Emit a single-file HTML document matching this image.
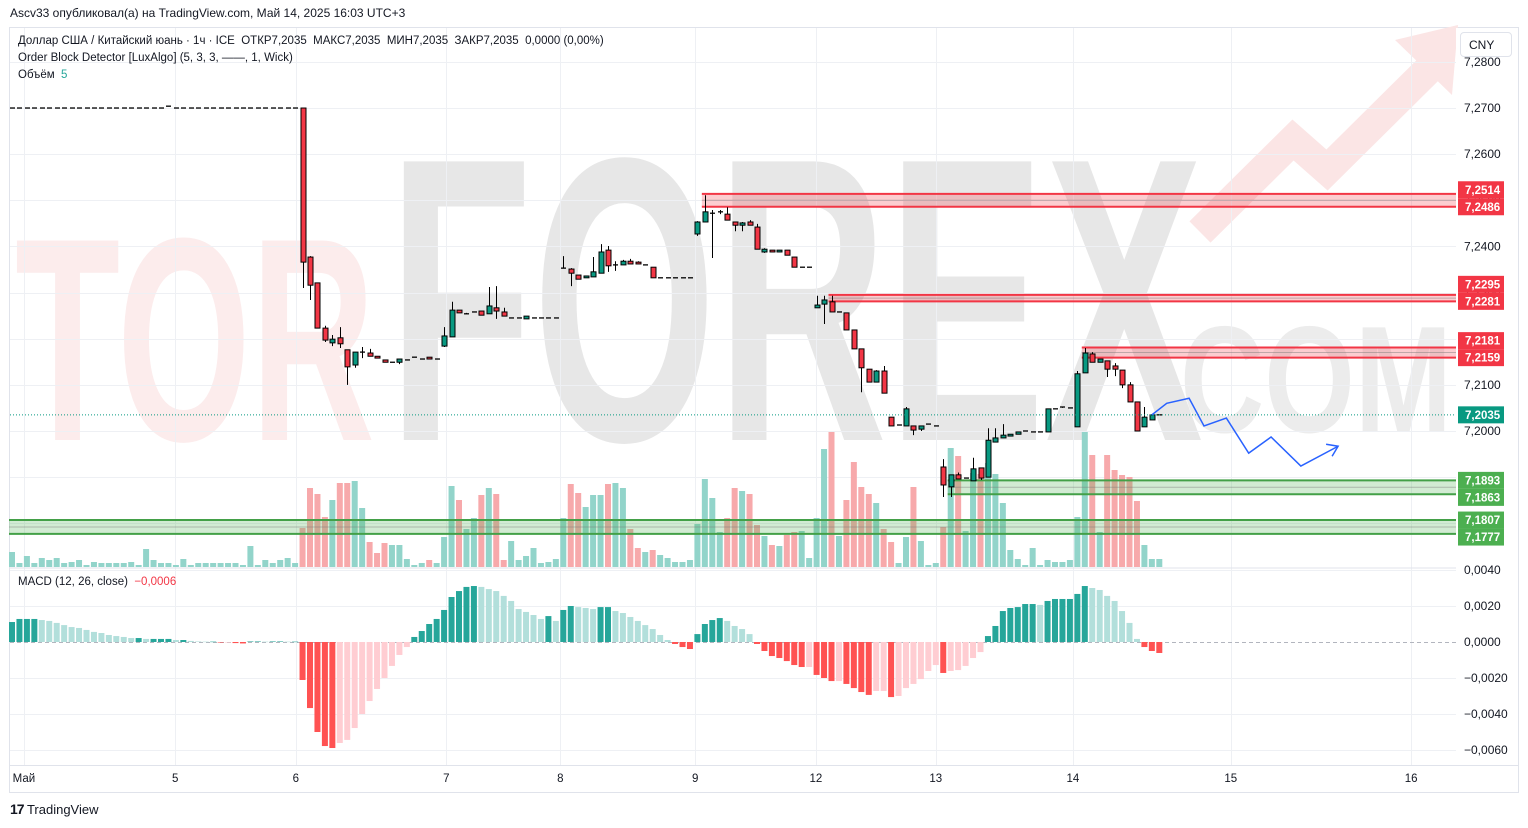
<!DOCTYPE html>
<html><head><meta charset="utf-8">
<style>
html,body{margin:0;padding:0;background:#fff;width:1528px;height:828px;overflow:hidden;font-family:"Liberation Sans","DejaVu Sans",sans-serif;}
#hdr{position:absolute;left:10px;top:6px;font-size:12px;color:#131722;}
.leg{position:absolute;left:18px;font-size:11.5px;color:#131722;white-space:nowrap;}
#cny{position:absolute;left:1460px;top:32px;width:52px;height:25px;border:1px solid #e0e3eb;border-radius:4px;background:#fff;font-size:12px;color:#131722;box-sizing:border-box;padding:5px 0 0 8px;}
#tv{position:absolute;left:10px;top:801px;font-size:13px;color:#131722;}
svg{position:absolute;left:0;top:0;}
</style></head><body>
<svg id="chart" width="1528" height="828"></svg>
<div id="hdr">Ascv33 опубликовал(а) на TradingView.com, Май 14, 2025 16:03 UTC+3</div>
<div class="leg" style="top:35px">Доллар США / Китайский юань · 1ч · ICE&nbsp; ОТКР7,2035&nbsp; МАКС7,2035&nbsp; МИН7,2035&nbsp; ЗАКР7,2035&nbsp; 0,0000 (0,00%)</div>
<div class="leg" style="top:52px">Order Block Detector [LuxAlgo] (5, 3, 3, ——, 1, Wick)</div>
<div class="leg" style="top:69px">Объём&nbsp; <span style="color:#26a69a">5</span></div>
<div class="leg" style="top:576px">MACD (12, 26, close)&nbsp; <span style="color:#f23645">−0,0006</span></div>
<div id="cny">CNY</div>
<div id="tv"><b style="font-size:14px;letter-spacing:-1px">17</b> TradingView</div>
<script>
const opens=[7.27,7.27,7.27,7.27,7.27,7.27,7.27,7.27,7.27,7.27,7.27,7.27,7.27,7.27,7.27,7.27,7.27,7.27,7.27,7.27,7.27,7.2704,7.27,7.27,7.27,7.27,7.27,7.27,7.27,7.27,7.27,7.27,7.27,7.27,7.27,7.27,7.27,7.27,7.27,
7.2700,7.2377,7.2321,7.2223,7.2191,7.2202,7.2176,7.2143,7.2171,7.2169,7.2162,7.2154,7.2149,7.2149,7.2154,7.2160,7.2156,7.2160,7.2156,7.2184,7.2204,7.2262,7.2254,7.2258,7.2260,7.2254,7.2267,7.2258,7.2245,7.2245,7.2243,7.2245,7.2245,7.2245,7.2245,7.2353,7.2351,7.2338,7.2332,7.2334,7.2342,7.2392,7.2360,7.2360,7.2368,7.2366,7.2360,7.2355,7.2332,7.2332,7.2332,7.2332,7.2332,7.2427,7.2453,7.2472,7.2475,7.2470,7.2453,7.2446,7.2453,7.2442,7.2388,7.2392,7.2388,7.2392,7.2377,7.2355,7.2355,7.2267,7.2275,7.2280,7.2258,7.2256,7.2219,7.2178,7.2134,7.2106,7.2130,7.2030,7.2013,7.2011,7.2011,7.2004,7.2015,7.2011,7.1922,7.1879,7.1905,7.1898,7.1892,7.1920,7.1900,7.1976,7.1985,7.1989,7.1993,7.2000,7.1998,7.1998,7.1998,7.2048,7.2050,7.2050,7.2009,7.2126,7.2167,7.2149,7.2152,7.2141,7.2132,7.2100,7.2063,7.2009,7.2024,7.2035];
const highs=[7.27,7.27,7.27,7.27,7.27,7.27,7.27,7.27,7.27,7.27,7.27,7.27,7.27,7.27,7.27,7.27,7.27,7.27,7.27,7.27,7.27,7.2704,7.27,7.27,7.27,7.27,7.27,7.27,7.27,7.27,7.27,7.27,7.27,7.27,7.27,7.27,7.27,7.27,7.27,
7.2700,7.2379,7.2321,7.2228,7.2208,7.2225,7.2176,7.2171,7.2182,7.2178,7.2162,7.2154,7.2149,7.2156,7.2154,7.2160,7.2156,7.2160,7.2156,7.2225,7.2280,7.2262,7.2256,7.2258,7.2260,7.2312,7.2314,7.2267,7.2245,7.2245,7.2249,7.2245,7.2245,7.2245,7.2245,7.2379,7.2353,7.2338,7.2336,7.2377,7.2405,7.2401,7.2368,7.2371,7.2373,7.2368,7.2360,7.2355,7.2332,7.2332,7.2332,7.2332,7.2332,7.2455,7.2511,7.2479,7.2479,7.2485,7.2453,7.2453,7.2457,7.2449,7.2396,7.2392,7.2392,7.2392,7.2377,7.2355,7.2355,7.2293,7.2293,7.2293,7.2258,7.2256,7.2219,7.2178,7.2134,7.2132,7.2141,7.2030,7.2013,7.2052,7.2011,7.2011,7.2015,7.2011,7.1939,7.1905,7.1910,7.1898,7.1942,7.1920,7.2006,7.2006,7.2015,7.1993,7.1998,7.2000,7.1998,7.1998,7.2048,7.2048,7.2052,7.2050,7.2130,7.2180,7.2171,7.2156,7.2152,7.2147,7.2132,7.2106,7.2063,7.2052,7.2035,7.2035];
const lows=[7.27,7.27,7.27,7.27,7.27,7.27,7.27,7.27,7.27,7.27,7.27,7.27,7.27,7.27,7.27,7.27,7.27,7.27,7.27,7.27,7.27,7.2704,7.27,7.27,7.27,7.27,7.27,7.27,7.27,7.27,7.27,7.27,7.27,7.27,7.27,7.27,7.27,7.27,7.27,
7.2310,7.2284,7.2223,7.2193,7.2184,7.2180,7.2100,7.2137,7.2158,7.2162,7.2158,7.2149,7.2149,7.2145,7.2154,7.2160,7.2156,7.2156,7.2156,7.2182,7.2204,7.2256,7.2254,7.2258,7.2251,7.2254,7.2243,7.2249,7.2245,7.2245,7.2243,7.2245,7.2245,7.2245,7.2245,7.2353,7.2314,7.2329,7.2332,7.2334,7.2342,7.2345,7.2347,7.2360,7.2362,7.2362,7.2360,7.2332,7.2332,7.2332,7.2332,7.2332,7.2332,7.2423,7.2453,7.2375,7.2470,7.2457,7.2433,7.2433,7.2446,7.2394,7.2386,7.2388,7.2388,7.2381,7.2355,7.2355,7.2355,7.2267,7.2232,7.2258,7.2258,7.2219,7.2178,7.2084,7.2106,7.2106,7.2082,7.2011,7.2013,7.2011,7.1991,7.2000,7.2015,7.2011,7.1857,7.1857,7.1896,7.1898,7.1892,7.1894,7.1900,7.1976,7.1985,7.1989,7.1993,7.2000,7.1998,7.1998,7.1998,7.2048,7.2050,7.2050,7.2009,7.2126,7.2149,7.2149,7.2117,7.2119,7.2093,7.2063,7.2000,7.2009,7.2024,7.2035];
const closes=[7.27,7.27,7.27,7.27,7.27,7.27,7.27,7.27,7.27,7.27,7.27,7.27,7.27,7.27,7.27,7.27,7.27,7.27,7.27,7.27,7.27,7.2704,7.27,7.27,7.27,7.27,7.27,7.27,7.27,7.27,7.27,7.27,7.27,7.27,7.27,7.27,7.27,7.27,7.27,
7.2366,7.2316,7.2223,7.2197,7.2199,7.2189,7.2139,7.2171,7.2171,7.2162,7.2158,7.2149,7.2149,7.2156,7.2154,7.2160,7.2156,7.2156,7.2156,7.2206,7.2262,7.2256,7.2254,7.2258,7.2251,7.2271,7.2260,7.2249,7.2245,7.2245,7.2249,7.2245,7.2245,7.2245,7.2245,7.2353,7.2342,7.2329,7.2336,7.2345,7.2388,7.2358,7.2360,7.2368,7.2362,7.2362,7.2360,7.2332,7.2332,7.2332,7.2332,7.2332,7.2332,7.2453,7.2475,7.2472,7.2475,7.2457,7.2446,7.2451,7.2446,7.2394,7.2394,7.2388,7.2392,7.2381,7.2355,7.2355,7.2355,7.2273,7.2284,7.2258,7.2258,7.2219,7.2178,7.2137,7.2106,7.2130,7.2082,7.2011,7.2013,7.2048,7.2002,7.2011,7.2015,7.2011,7.1883,7.1905,7.1896,7.1898,7.1918,7.1898,7.1980,7.1985,7.1991,7.1993,7.1998,7.2000,7.1998,7.1998,7.2048,7.2048,7.2052,7.2050,7.2124,7.2169,7.2149,7.2156,7.2134,7.2134,7.2100,7.2063,7.2000,7.2030,7.2035,7.2035];
const volumes=[15,4,11,4,9,7,9,4,5,7,2,5,4,4,4,4,5,2,18,7,4,4,2,8,2,4,4,4,4,4,4,2,21,2,7,4,7,9,4,
39,79,73,50,67,84,84,86,59,25,14,24,22,22,8,2,4,7,4,30,81,67,38,49,72,79,73,7,26,7,11,19,4,5,8,49,83,74,60,72,
72,83,84,79,38,19,15,17,12,9,5,5,7,43,88,69,35,49,79,76,73,42,31,22,21,32,35,36,9,49,118,135,31,67,105,80,73,64,38,25,4,30,80,26,2,4,40,119,111,36,94,93,104,93,64,17,8,2,19,2,7,5,5,7,50,135,112,35,112,97,92,90,66,22,8,8];
const macdHist=[0.00111,0.00128,0.00128,0.00128,0.00122,0.00117,0.00106,0.00094,0.00083,0.00078,0.00067,0.00056,0.0005,0.00039,0.00033,0.00028,0.00022,0.00022,0.00017,0.00017,0.00017,0.00017,0.00011,0.00011,0.00006,0.00003,0.00002,0.00002,-0.00003,-0.00003,-0.00006,-0.00008,0.00003,0.00003,0.00002,0.00003,0.00003,0.00002,0.00002,
-0.00211,-0.00367,-0.005,-0.00578,-0.00589,-0.00561,-0.00544,-0.00478,-0.004,-0.00328,-0.00261,-0.002,-0.00133,-0.00072,-0.00028,0.00028,0.00061,0.001,0.00128,0.00178,0.0025,0.00283,0.00306,0.00311,0.00306,0.00294,0.00283,0.00256,0.00228,0.00183,0.00167,0.0015,0.00128,0.00144,0.00117,0.00178,0.002,0.00194,0.00189,0.00183,0.00194,
0.00194,0.00172,0.00161,0.00139,0.00117,0.00094,0.00072,0.00039,0.00011,-0.00011,-0.00028,-0.00039,0.00044,0.001,0.00122,0.00133,0.00117,0.00089,0.00072,0.00044,-0.00011,-0.0005,-0.00078,-0.00089,-0.00106,-0.00128,-0.00139,-0.00139,-0.00183,-0.002,-0.00217,-0.00217,-0.00233,-0.00256,-0.00278,-0.00294,-0.00272,-0.00272,-0.00306,-0.003,-0.00256,-0.00233,-0.00206,-0.00161,-0.00128,-0.00172,-0.00161,-0.00156,-0.00133,-0.00089,-0.00056,0.00033,0.00089,0.00172,0.00189,0.00194,0.00211,0.00211,0.00206,0.00228,0.00239,0.00239,0.00239,0.00267,0.00311,0.003,0.00289,0.00256,0.00228,0.00172,0.00106,0.00017,-0.00028,-0.0005,-0.00061];
const priceTicks=[7.28,7.27,7.26,7.25,7.24,7.23,7.22,7.21,7.20,7.19,7.18];
const priceTickLabels=['7,2800','7,2700','7,2600','7,2500','7,2400','7,2300','7,2200','7,2100','7,2000','7,1900','7,1800'];
const macdTicks=[0.004,0.002,0,-0.002,-0.004,-0.006];
const macdTickLabels=['0,0040','0,0020','0,0000','−0,0020','−0,0040','−0,0060'];
const dateLabels=['Май','5','6','7','8','9','12','13','14','15','16'];
const dateBarIdx=[1.6,21.9,38.1,58.3,73.6,91.7,107.9,124,142.4,163.6,187.8];
const obTops=[7.2514,7.2295,7.2181];
const obBottoms=[7.2486,7.2281,7.2159];
const obStarts=[93,110,144];
const bullObTops=[7.1893,7.1807];
const bullObBottoms=[7.1863,7.1777];
const bullObStarts=[126,0];
const lastPrice=7.2035;
const projX=[153,155,158,160,163,166,169,173,178];
const projY=[7.2035,7.2060,7.2071,7.2011,7.2028,7.1952,7.1987,7.1924,7.1967];

const NS='http://www.w3.org/2000/svg';
const svg=document.getElementById('chart');
const PL=10,PR=1456,MT=28,MB=567,DT=569,DB=765;
const xB=i=>12+i*7.45;
const yP=p=>431-(p-7.20)*4614;
const yM=v=>642-v*18000;
const yV=v=>567-v;
function mk(tag,attrs,parent){const e=document.createElementNS(NS,tag);for(const k in attrs)e.setAttribute(k,attrs[k]);(parent||svg).appendChild(e);return e;}

let fr=mk('rect',{x:9.5,y:27.5,width:1509,height:765,fill:'#fff',stroke:'#e0e3eb'});



const wm=mk('g',{});


mk('polyline',{points:'1200,232 1293,140 1327,170 1440,58',fill:'none',stroke:'#fbe5e5','stroke-width':30},wm);
mk('polygon',{points:'1395,40 1458,25 1452,95',fill:'#fbe5e5'},wm);
let t1=mk('text',{x:15,y:440,'font-size':290,'font-weight':'bold',fill:'#fcecec',textLength:360,lengthAdjust:'spacingAndGlyphs','font-family':'Liberation Sans, sans-serif'},wm);t1.textContent='TOR';
let t2=mk('text',{x:388,y:440,'font-size':405,'font-weight':'bold',fill:'#e7e7e7',textLength:815,lengthAdjust:'spacingAndGlyphs','font-family':'Liberation Sans, sans-serif'},wm);t2.textContent='FOREX';
let t3=mk('text',{x:1180,y:432,'font-size':152,'font-weight':'bold',fill:'#ececec',textLength:272,lengthAdjust:'spacingAndGlyphs','font-family':'Liberation Sans, sans-serif'},wm);t3.textContent='COM';

const grid=mk('g',{stroke:'#eef0f4','stroke-width':1});


priceTicks.forEach(p=>{const y=Math.round(yP(p))+0.5;if(y>MT&&y<MB)mk('line',{x1:PL,x2:PR,y1:y,y2:y},grid);});
macdTicks.forEach(v=>{const y=Math.round(yM(v))+0.5;if(v!==0)mk('line',{x1:PL,x2:PR,y1:y,y2:y},grid);});
dateBarIdx.forEach(d=>{const x=Math.round(xB(d))+0.5;if(x<PR)mk('line',{x1:x,x2:x,y1:MT,y2:DB},grid);});
mk('line',{x1:PL,x2:1518,y1:568,y2:568,stroke:'#e0e3eb'});

const vg=mk('g',{});


volumes.forEach((v,i)=>{
  const up=closes[i]>=opens[i];
  const r=mk('rect',{x:xB(i)-3,y:yV(v),width:6,height:v,fill:up?'#92d4ca':'#f7a9ab'},vg);
  
  
});

function zone(top,bot,start,fill,line,name){
  const g=mk('g',{});
  
  
  const x0=xB(start)-3,y0=yP(top),y1=yP(bot);
  mk('rect',{x:x0,y:y0,width:PR-x0,height:y1-y0,fill:fill},g);
  mk('line',{x1:x0,x2:PR,y1:y0,y2:y0,stroke:line,'stroke-width':2},g);
  mk('line',{x1:x0,x2:PR,y1:y1,y2:y1,stroke:line,'stroke-width':2},g);
  mk('line',{x1:x0,x2:PR,y1:(y0+y1)/2,y2:(y0+y1)/2,stroke:'rgba(120,120,120,0.45)','stroke-width':1},g);
}
obTops.forEach((t,k)=>zone(t,obBottoms[k],obStarts[k],'rgba(242,54,69,0.25)','#f23645','bearish-order-block'));
bullObTops.forEach((t,k)=>zone(t,bullObBottoms[k],bullObStarts[k],'rgba(76,175,80,0.25)','#43a047','bullish-order-block'));

const cg=mk('g',{});


opens.forEach((o,i)=>{
  const c=closes[i],x=Math.round(xB(i))+0.5;
  const g=mk('g',{},cg);
  
  
  mk('line',{x1:x,x2:x,y1:yP(highs[i]),y2:yP(lows[i]),stroke:'#000','stroke-width':1},g);
  const yt=yP(Math.max(o,c)),yb=yP(Math.min(o,c));
  if(yb-yt<1.2){mk('line',{x1:x-2.5,x2:x+2.5,y1:yt,y2:yt,stroke:'#000','stroke-width':1.3},g);}
  else mk('rect',{x:x-2.5,y:yt,width:5,height:yb-yt,fill:c>=o?'#089981':'#f23645',stroke:'#000','stroke-width':1},g);
});

let lp=mk('line',{x1:PL,x2:PR,y1:yP(lastPrice),y2:yP(lastPrice),stroke:'#089981','stroke-width':1,'stroke-dasharray':'1 2'});



let pts=projX.map((b,k)=>xB(b)+','+yP(projY[k])).join(' ');
let pj=mk('polyline',{points:pts,fill:'none',stroke:'#2962ff','stroke-width':1.5});


const ex=xB(projX[projX.length-1]),ey=yP(projY[projY.length-1]);
let ah=mk('polyline',{points:(ex-12)+','+(ey-2)+' '+ex+','+ey+' '+(ex-6)+','+(ey+10),fill:'none',stroke:'#2962ff','stroke-width':1.5});



const mg=mk('g',{});


mk('line',{x1:PL,x2:PR,y1:642.5,y2:642.5,stroke:'#b2b5be','stroke-dasharray':'4 3'},mg);
macdHist.forEach((v,i)=>{
  const prev=i>0?macdHist[i-1]:v;
  let col;
  if(v>=0)col=v>=prev?'#26a69a':'#b2dfdb';else col=v<prev?'#ff5252':'#ffcdd2';
  const y0=yM(Math.max(v,0)),y1=yM(Math.min(v,0));
  const r=mk('rect',{x:xB(i)-3,y:y0,width:6,height:Math.max(y1-y0,0.5),fill:col},mg);
  
  
});

mk('rect',{x:PR,y:28,width:62,height:764,fill:'#fff'});

const ax=mk('g',{'font-size':12,fill:'#131722','font-family':'Liberation Sans, sans-serif'});


priceTicks.forEach((p,k)=>{const t=mk('text',{x:1464,y:yP(p)+4},ax);t.textContent=priceTickLabels[k];});
macdTicks.forEach((v,k)=>{const t=mk('text',{x:1464,y:yM(v)+4},ax);t.textContent=macdTickLabels[k];});

function tag(p,yc,bg,name){
  const g=mk('g',{});
  
  
  mk('rect',{x:1458,y:yc-8.5,width:46,height:17,fill:bg},g);
  const t=mk('text',{x:1465,y:yc+4,'font-size':11.5,'font-weight':'bold',fill:'#fff'},g);
  t.textContent=p.toFixed(4).replace('.',',');
}
obTops.forEach((t,k)=>{const yb=yP(obBottoms[k]);tag(obBottoms[k],yb,'#f23645','ob-bottom-label');tag(t,yb-17,'#f23645','ob-top-label');});
bullObTops.forEach((t,k)=>{const yt=yP(t);tag(t,yt,'#4caf50','bull-ob-top-label');tag(bullObBottoms[k],yt+17,'#4caf50','bull-ob-bottom-label');});
tag(lastPrice,yP(lastPrice),'#089981','last-price-label');

const ta=mk('g',{'font-size':11.5,fill:'#131722','text-anchor':'middle'});


dateLabels.forEach((d,k)=>{const t=mk('text',{x:xB(dateBarIdx[k]),y:782},ta);t.textContent=d;});
mk('line',{x1:PL,x2:1518,y1:765.5,y2:765.5,stroke:'#e0e3eb'});
</script>
</body></html>
